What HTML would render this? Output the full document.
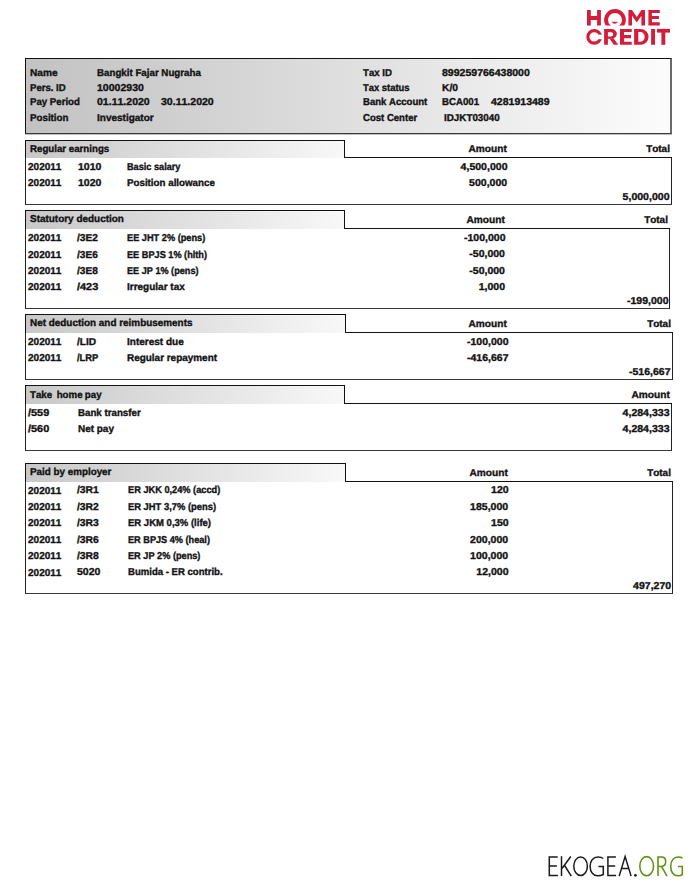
<!DOCTYPE html>
<html><head><meta charset="utf-8"><style>
html,body{margin:0;padding:0;background:#fff;width:695px;height:895px;overflow:hidden}
body{position:relative;font-family:"Liberation Sans",sans-serif}
.t{position:absolute;font-weight:bold;font-size:10.0px;line-height:10.0px;white-space:nowrap;color:#111;font-kerning:none;text-rendering:geometricPrecision;-webkit-text-stroke:0.35px}
.hdr{position:absolute;box-sizing:border-box;border-top:1px solid #111;border-left:1px solid #111;border-right:2px solid #6a6a6a;border-bottom:1px solid #3a3a3a;box-shadow:0 1px 0 rgba(70,70,70,0.35);background:linear-gradient(to right,#c2c2c2,#fcfcfc)}
.tab{position:absolute;box-sizing:border-box;border:1px solid #111;border-bottom:none;background:linear-gradient(to right,#c8c8c8,#f8f8f8)}
.box{position:absolute;box-sizing:border-box;border:1px solid #222;border-bottom-color:#383838;border-top:none}
.ln{position:absolute;height:1px;background:#111}
.logo{position:absolute;left:580px;top:0}
.wm{position:absolute;left:540px;top:845px}
</style></head><body>
<div class="hdr" style="left:25px;top:58px;width:647px;height:76px"></div>
<div class="t" style="left:30.10px;top:68.5px;transform:scaleX(1.0156);transform-origin:0 0">Name</div>
<div class="t" style="left:97.20px;top:68.5px;transform:scaleX(0.9734);transform-origin:0 0">Bangkit Fajar Nugraha</div>
<div class="t" style="left:30.10px;top:83.5px;transform:scaleX(0.9586);transform-origin:0 0">Pers. ID</div>
<div class="t" style="left:97.20px;top:83.5px;transform:scaleX(1.0528);transform-origin:0 0">10002930</div>
<div class="t" style="left:30.10px;top:97.5px;transform:scaleX(0.9648);transform-origin:0 0">Pay Period</div>
<div class="t" style="left:97.20px;top:97.5px;transform:scaleX(1.0535);transform-origin:0 0">01.11.2020</div>
<div class="t" style="left:30.10px;top:113.5px;transform:scaleX(0.9752);transform-origin:0 0">Position</div>
<div class="t" style="left:97.20px;top:113.5px;transform:scaleX(0.9992);transform-origin:0 0">Investigator</div>
<div class="t" style="left:161.00px;top:97.5px;transform:scaleX(1.0535);transform-origin:0 0">30.11.2020</div>
<div class="t" style="left:362.50px;top:68.5px;transform:scaleX(0.9622);transform-origin:0 0">Tax ID</div>
<div class="t" style="left:441.70px;top:68.5px;transform:scaleX(1.0528);transform-origin:0 0">899259766438000</div>
<div class="t" style="left:362.50px;top:83.5px;transform:scaleX(0.9423);transform-origin:0 0">Tax status</div>
<div class="t" style="left:441.70px;top:83.5px;transform:scaleX(1.0264);transform-origin:0 0">K/0</div>
<div class="t" style="left:362.50px;top:97.5px;transform:scaleX(0.9561);transform-origin:0 0">Bank Account</div>
<div class="t" style="left:441.70px;top:97.5px;transform:scaleX(0.9656);transform-origin:0 0">BCA001</div>
<div class="t" style="left:362.50px;top:113.5px;transform:scaleX(0.9559);transform-origin:0 0">Cost Center</div>
<div class="t" style="left:443.90px;top:113.5px;transform:scaleX(0.9826);transform-origin:0 0">IDJKT03040</div>
<div class="t" style="left:491.00px;top:97.5px;transform:scaleX(1.0528);transform-origin:0 0">4281913489</div>
<div class="tab" style="left:25px;top:140px;width:320px;height:18px"></div>
<div class="box" style="left:25px;top:157px;width:647px;height:48px"></div>
<div class="ln" style="left:344px;top:157px;width:328px"></div>
<div class="t" style="left:29.90px;top:144.5px;transform:scaleX(0.9699);transform-origin:0 0">Regular earnings</div>
<div class="t" style="right:188.70px;top:144.5px;transform:scaleX(1.0148);transform-origin:100% 0">Amount</div>
<div class="t" style="right:25.10px;top:144.5px;transform:scaleX(0.9938);transform-origin:100% 0">Total</div>
<div class="t" style="left:28.00px;top:162.5px;transform:scaleX(1.0002);transform-origin:0 0">202011</div>
<div class="t" style="left:77.60px;top:162.5px;transform:scaleX(1.0528);transform-origin:0 0">1010</div>
<div class="t" style="left:126.50px;top:162.5px;transform:scaleX(0.9150);transform-origin:0 0">Basic salary</div>
<div class="t" style="right:187.60px;top:162.5px;transform:scaleX(1.0536);transform-origin:100% 0">4,500,000</div>
<div class="t" style="left:28.00px;top:178.5px;transform:scaleX(1.0002);transform-origin:0 0">202011</div>
<div class="t" style="left:77.60px;top:178.5px;transform:scaleX(1.0528);transform-origin:0 0">1020</div>
<div class="t" style="left:126.50px;top:178.5px;transform:scaleX(0.9759);transform-origin:0 0">Position allowance</div>
<div class="t" style="right:187.60px;top:178.5px;transform:scaleX(1.0533);transform-origin:100% 0">500,000</div>
<div class="t" style="right:25.10px;top:192.5px;transform:scaleX(1.0536);transform-origin:100% 0">5,000,000</div>
<div class="tab" style="left:25px;top:210px;width:320px;height:19px"></div>
<div class="box" style="left:25px;top:228px;width:645px;height:81px"></div>
<div class="ln" style="left:344px;top:228px;width:326px"></div>
<div class="t" style="left:29.90px;top:214.5px;transform:scaleX(0.9941);transform-origin:0 0">Statutory deduction</div>
<div class="t" style="right:190.40px;top:215.5px;transform:scaleX(1.0148);transform-origin:100% 0">Amount</div>
<div class="t" style="right:26.90px;top:215.5px;transform:scaleX(0.9938);transform-origin:100% 0">Total</div>
<div class="t" style="left:27.90px;top:233.5px;transform:scaleX(1.0002);transform-origin:0 0">202011</div>
<div class="t" style="left:77.00px;top:233.5px;transform:scaleX(1.0144);transform-origin:0 0">/3E2</div>
<div class="t" style="left:127.00px;top:233.5px;transform:scaleX(0.9210);transform-origin:0 0">EE JHT 2% (pens)</div>
<div class="t" style="right:189.90px;top:233.5px;transform:scaleX(1.0500);transform-origin:100% 0">-100,000</div>
<div class="t" style="left:27.90px;top:250.5px;transform:scaleX(1.0002);transform-origin:0 0">202011</div>
<div class="t" style="left:77.00px;top:250.5px;transform:scaleX(1.0144);transform-origin:0 0">/3E6</div>
<div class="t" style="left:127.00px;top:250.5px;transform:scaleX(0.9174);transform-origin:0 0">EE BPJS 1% (hlth)</div>
<div class="t" style="right:189.90px;top:249.5px;transform:scaleX(1.0495);transform-origin:100% 0">-50,000</div>
<div class="t" style="left:27.90px;top:266.5px;transform:scaleX(1.0002);transform-origin:0 0">202011</div>
<div class="t" style="left:77.00px;top:266.5px;transform:scaleX(1.0144);transform-origin:0 0">/3E8</div>
<div class="t" style="left:127.00px;top:266.5px;transform:scaleX(0.9124);transform-origin:0 0">EE JP 1% (pens)</div>
<div class="t" style="right:189.90px;top:266.5px;transform:scaleX(1.0495);transform-origin:100% 0">-50,000</div>
<div class="t" style="left:27.90px;top:282.5px;transform:scaleX(1.0002);transform-origin:0 0">202011</div>
<div class="t" style="left:77.00px;top:282.5px;transform:scaleX(1.0928);transform-origin:0 0">/423</div>
<div class="t" style="left:127.00px;top:282.5px;transform:scaleX(0.9996);transform-origin:0 0">Irregular tax</div>
<div class="t" style="right:189.90px;top:282.5px;transform:scaleX(1.0535);transform-origin:100% 0">1,000</div>
<div class="t" style="right:26.60px;top:296.5px;transform:scaleX(1.0500);transform-origin:100% 0">-199,000</div>
<div class="tab" style="left:25px;top:314px;width:321px;height:19px"></div>
<div class="box" style="left:25px;top:332px;width:648px;height:48px"></div>
<div class="ln" style="left:345px;top:332px;width:328px"></div>
<div class="t" style="left:29.90px;top:318.5px;transform:scaleX(0.9911);transform-origin:0 0">Net deduction and reimbusements</div>
<div class="t" style="right:187.80px;top:319.5px;transform:scaleX(1.0148);transform-origin:100% 0">Amount</div>
<div class="t" style="right:24.40px;top:319.5px;transform:scaleX(0.9938);transform-origin:100% 0">Total</div>
<div class="t" style="left:27.90px;top:337.5px;transform:scaleX(1.0002);transform-origin:0 0">202011</div>
<div class="t" style="left:77.00px;top:337.5px;transform:scaleX(1.0127);transform-origin:0 0">/LID</div>
<div class="t" style="left:127.00px;top:337.5px;transform:scaleX(1.0014);transform-origin:0 0">Interest due</div>
<div class="t" style="right:186.80px;top:337.5px;transform:scaleX(1.0500);transform-origin:100% 0">-100,000</div>
<div class="t" style="left:27.90px;top:353.5px;transform:scaleX(1.0002);transform-origin:0 0">202011</div>
<div class="t" style="left:77.00px;top:353.5px;transform:scaleX(0.9328);transform-origin:0 0">/LRP</div>
<div class="t" style="left:127.00px;top:353.5px;transform:scaleX(0.9937);transform-origin:0 0">Regular repayment</div>
<div class="t" style="right:186.80px;top:353.5px;transform:scaleX(1.0500);transform-origin:100% 0">-416,667</div>
<div class="t" style="right:24.40px;top:367.5px;transform:scaleX(1.0500);transform-origin:100% 0">-516,667</div>
<div class="tab" style="left:25px;top:385px;width:320px;height:19px"></div>
<div class="box" style="left:25px;top:403px;width:647px;height:48px"></div>
<div class="ln" style="left:344px;top:403px;width:328px"></div>
<div class="t" style="left:29.90px;top:390.5px;word-spacing:-0.4px;transform:scaleX(0.9692);transform-origin:0 0">Take&nbsp; home pay</div>
<div class="t" style="right:25.00px;top:390.5px;transform:scaleX(1.0148);transform-origin:100% 0">Amount</div>
<div class="t" style="left:27.80px;top:408.5px;transform:scaleX(1.0928);transform-origin:0 0">/559</div>
<div class="t" style="left:78.00px;top:408.5px;transform:scaleX(0.9724);transform-origin:0 0">Bank transfer</div>
<div class="t" style="right:25.50px;top:408.5px;transform:scaleX(1.0536);transform-origin:100% 0">4,284,333</div>
<div class="t" style="left:27.80px;top:424.5px;transform:scaleX(1.0928);transform-origin:0 0">/560</div>
<div class="t" style="left:78.00px;top:424.5px;transform:scaleX(0.9945);transform-origin:0 0">Net pay</div>
<div class="t" style="right:25.50px;top:424.5px;transform:scaleX(1.0536);transform-origin:100% 0">4,284,333</div>
<div class="tab" style="left:25px;top:463px;width:321px;height:19px"></div>
<div class="box" style="left:25px;top:481px;width:648px;height:113px"></div>
<div class="ln" style="left:345px;top:481px;width:328px"></div>
<div class="t" style="left:29.90px;top:467.5px;transform:scaleX(0.9830);transform-origin:0 0">Paid by employer</div>
<div class="t" style="right:187.70px;top:468.5px;transform:scaleX(1.0148);transform-origin:100% 0">Amount</div>
<div class="t" style="right:24.30px;top:468.5px;transform:scaleX(0.9938);transform-origin:100% 0">Total</div>
<div class="t" style="left:27.90px;top:486.5px;transform:scaleX(1.0002);transform-origin:0 0">202011</div>
<div class="t" style="left:77.10px;top:485.5px;transform:scaleX(1.0309);transform-origin:0 0">/3R1</div>
<div class="t" style="left:127.50px;top:485.5px;transform:scaleX(0.9226);transform-origin:0 0">ER JKK 0,24% (accd)</div>
<div class="t" style="right:186.80px;top:485.5px;transform:scaleX(1.0528);transform-origin:100% 0">120</div>
<div class="t" style="left:27.90px;top:502.5px;transform:scaleX(1.0002);transform-origin:0 0">202011</div>
<div class="t" style="left:77.10px;top:502.5px;transform:scaleX(1.0309);transform-origin:0 0">/3R2</div>
<div class="t" style="left:127.50px;top:502.5px;transform:scaleX(0.9371);transform-origin:0 0">ER JHT 3,7% (pens)</div>
<div class="t" style="right:186.80px;top:502.5px;transform:scaleX(1.0533);transform-origin:100% 0">185,000</div>
<div class="t" style="left:27.90px;top:518.5px;transform:scaleX(1.0002);transform-origin:0 0">202011</div>
<div class="t" style="left:77.10px;top:518.5px;transform:scaleX(1.0309);transform-origin:0 0">/3R3</div>
<div class="t" style="left:127.50px;top:518.5px;transform:scaleX(0.9516);transform-origin:0 0">ER JKM 0,3% (life)</div>
<div class="t" style="right:186.80px;top:518.5px;transform:scaleX(1.0528);transform-origin:100% 0">150</div>
<div class="t" style="left:27.90px;top:535.5px;transform:scaleX(1.0002);transform-origin:0 0">202011</div>
<div class="t" style="left:77.10px;top:535.5px;transform:scaleX(1.0309);transform-origin:0 0">/3R6</div>
<div class="t" style="left:127.50px;top:535.5px;transform:scaleX(0.9158);transform-origin:0 0">ER BPJS 4% (heal)</div>
<div class="t" style="right:186.80px;top:535.5px;transform:scaleX(1.0533);transform-origin:100% 0">200,000</div>
<div class="t" style="left:27.90px;top:551.5px;transform:scaleX(1.0002);transform-origin:0 0">202011</div>
<div class="t" style="left:77.10px;top:551.5px;transform:scaleX(1.0309);transform-origin:0 0">/3R8</div>
<div class="t" style="left:127.50px;top:551.5px;transform:scaleX(0.9175);transform-origin:0 0">ER JP 2% (pens)</div>
<div class="t" style="right:186.80px;top:551.5px;transform:scaleX(1.0533);transform-origin:100% 0">100,000</div>
<div class="t" style="left:27.90px;top:568.5px;transform:scaleX(1.0002);transform-origin:0 0">202011</div>
<div class="t" style="left:77.10px;top:567.5px;transform:scaleX(1.0528);transform-origin:0 0">5020</div>
<div class="t" style="left:127.50px;top:567.5px;transform:scaleX(0.9562);transform-origin:0 0">Bumida - ER contrib.</div>
<div class="t" style="right:186.80px;top:567.5px;transform:scaleX(1.0534);transform-origin:100% 0">12,000</div>
<div class="t" style="right:24.30px;top:581.5px;transform:scaleX(1.0533);transform-origin:100% 0">497,270</div>
<svg class="logo" width="100" height="50" viewBox="580 0 100 50"><defs><clipPath id="oc"><rect x="600" y="0" width="30" height="25.5"/></clipPath></defs><g fill="#d41d3b">
<path d="M587,10h3.8v6.1h6.3v-6.1h3.8v15.5h-3.8v-5.6h-6.3v5.6h-3.8z"/>
<path clip-path="url(#oc)" fill-rule="evenodd" d="M604.1,19.9a10.9,10.9 0 1,0 21.8,0a10.9,10.9 0 1,0 -21.8,0zM608,19.9a7,7 0 1,0 14,0a7,7 0 1,0 -14,0z"/>
<path d="M611.4,21.8H618Q614.7,25.6 611.4,21.8z"/>
<path d="M628.4,25.5V10h3.6l4.8,7l4.6,-7h3.6v15.5h-3.6v-9.8l-4.6,6.8l-4.8,-6.8v9.8z"/>
<path d="M648.4,10h11.4v3h-7.9v3.1h7v3h-7v3.2h7.9v3.2h-11.4z"/>
<path fill-rule="evenodd" d="M586.3,36.9a7.9,7.9 0 1,0 15.8,0a7.9,7.9 0 1,0 -15.8,0zM589.5,36.9a4.7,4.7 0 1,0 9.4,0a4.7,4.7 0 1,0 -9.4,0z"/><rect x="594.5" y="34.6" width="9" height="4.6" fill="#fff"/>
<path fill-rule="evenodd" d="M604.1,44.8V29h7.4a5.4,4.85 0 0,1 0,9.7h-3.6v6.1zM607.9,32.3v4.1h3.3a2.05,2.05 0 0,0 0,-4.1z"/>
<path d="M609.3,38.2h4.2l4.8,6.6h-4.5z"/>
<path d="M620,28.9h11.7v3h-7.6v3.1h6.9v3.2h-6.9v3.5h7.6v3.1h-11.7z"/>
<path fill-rule="evenodd" d="M634.1,28.9h6.4a8.1,7.95 0 0,1 0,15.9h-6.4zM638.3,32.1v9.6h2.2a4.2,4.8 0 0,0 0,-9.6z"/>
<rect x="651.1" y="28.9" width="3.9" height="15.9"/>
<rect x="657" y="28.9" width="13" height="3.7"/>
<rect x="661.4" y="28.9" width="3.9" height="15.9"/>
</g></svg>
<svg class="wm" width="150" height="40" viewBox="540 845 150 40"><g fill="none" stroke-width="1.5" stroke="#1a1a1a">
<path d="M557.7,857H549.3V875.4H557.9M549.3,866.1H556.9"/>
<path d="M561.5,856.3V876.1M570.8,856.5L562,868.5M564.6,865.5L571.3,876.1"/>
<ellipse cx="580.6" cy="866.2" rx="6.8" ry="9.3"/>
<path d="M603.2,858.5C602,857.4 600.3,857 598,857C593.4,857 590.1,860.8 590.1,866.4C590.1,872 593.4,875.8 597.8,875.8C600.2,875.8 602,875.2 603.3,874.5V866.6H598.5"/>
<path d="M615.9,857H607.9V875.4H616.1M607.9,866.1H615.2"/>
<path d="M619.2,876.1L625.1,856.6L631.1,876.1M621.6,868.6H628.6"/>
</g><circle cx="635.4" cy="875.3" r="1.35" fill="#1e1e1e"/><g fill="none" stroke-width="1.55" stroke="#5c920f">
<ellipse cx="646.65" cy="866.2" rx="6.85" ry="9.6"/>
<path d="M658,876.1V857H661.5C664.5,857 665.7,859 665.7,861.6C665.7,864.3 664.3,866.4 661.2,866.4H658M661.5,866.4L667,876.1"/>
<path d="M682.5,858.2C681.4,857.3 679.8,857 678,857C673.6,857 670.7,860.8 670.7,866.4C670.7,872 673.6,875.8 677.8,875.8C679.8,875.8 681.4,875.3 682.3,874.6V866.4H677.9"/>
</g></svg>

</body></html>
